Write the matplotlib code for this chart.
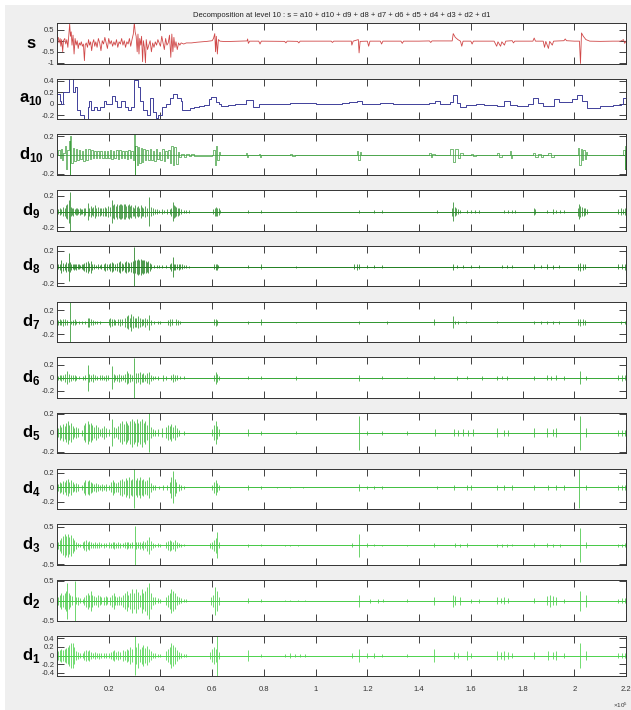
import numpy as np
import matplotlib
matplotlib.use("Agg")
import matplotlib.pyplot as plt
from matplotlib.patches import Rectangle

plt.rcParams['font.family'] = ['Liberation Sans Narrow', 'Liberation Sans', 'DejaVu Sans']
plt.rcParams['axes.unicode_minus'] = False
plt.rcParams['mathtext.fontset'] = 'custom'
plt.rcParams['mathtext.rm'] = 'Liberation Sans'
plt.rcParams['mathtext.bf'] = 'Liberation Sans:bold'

title = "Decomposition at level 10 : s = a10 + d10 + d9 + d8 + d7 + d6 + d5 + d4 + d3 + d2 + d1"
xtick_vals = [0.2, 0.4, 0.6, 0.8, 1.0, 1.2, 1.4, 1.6, 1.8, 2.0, 2.2]

# signal s (x in 1e5 samples)
s_x = [0.0, 0.005, 0.008, 0.012, 0.015, 0.018, 0.022, 0.025, 0.03, 0.034, 0.038, 0.042, 0.046, 0.049, 0.052,
       0.055, 0.058, 0.062, 0.066, 0.07, 0.074, 0.078, 0.082, 0.086, 0.09, 0.094, 0.098, 0.102, 0.106, 0.109,
       0.113, 0.118, 0.122, 0.126, 0.13, 0.134, 0.138, 0.142, 0.146, 0.15, 0.155, 0.16, 0.165, 0.17, 0.175,
       0.18, 0.185, 0.19, 0.195, 0.2, 0.205, 0.21, 0.215, 0.22, 0.225, 0.23, 0.235, 0.24, 0.245, 0.25, 0.255,
       0.26, 0.265, 0.27, 0.275, 0.28, 0.285, 0.29, 0.295, 0.299, 0.302, 0.306, 0.31, 0.313, 0.317, 0.32,
       0.324, 0.327, 0.331, 0.334, 0.338, 0.342, 0.345, 0.35, 0.355, 0.36, 0.365, 0.37, 0.375, 0.38, 0.385,
       0.39, 0.395, 0.4, 0.405, 0.41, 0.415, 0.42, 0.425, 0.43, 0.435, 0.44, 0.444, 0.448, 0.452, 0.456, 0.46,
       0.465, 0.47, 0.475, 0.48, 0.49, 0.5, 0.52, 0.54, 0.56, 0.58, 0.6, 0.605, 0.61, 0.613, 0.616, 0.62, 0.624,
       0.63, 0.65, 0.7, 0.735, 0.737, 0.74, 0.745, 0.78, 0.785, 0.79, 0.88, 0.885, 0.89, 0.93, 0.935, 0.94,
       1.0, 1.06, 1.065, 1.07, 1.138, 1.14, 1.145, 1.165, 1.168, 1.172, 1.2, 1.205, 1.21, 1.25, 1.255, 1.26,
       1.33, 1.335, 1.34, 1.4, 1.44, 1.445, 1.45, 1.528, 1.532, 1.54, 1.55, 1.56, 1.565, 1.57, 1.6, 1.605,
       1.61, 1.69, 1.7, 1.705, 1.715, 1.72, 1.73, 1.735, 1.76, 1.765, 1.77, 1.84, 1.845, 1.85, 1.88, 1.885,
       1.89, 1.9, 1.905, 1.915, 1.92, 1.96, 1.965, 1.97, 2.0, 2.02, 2.024, 2.028, 2.035, 2.045, 2.06, 2.1,
       2.15, 2.18, 2.19, 2.195, 2.2]
s_y = [0.05, 0.15, -0.1, 0.1, -0.25, 0.05, -0.5, 0.0, 0.1, -0.15, 0.05, -0.3, 0.3, 0.75, 0.2,
       0.4, -0.2, 0.25, -0.6, 0.1, -0.2, 0.0, -0.35, -0.1, -0.2, -0.05, -0.25, -0.15, -0.9, -0.2,
       -0.1, -0.3, 0.05, -0.2, -0.05, -0.45, -0.1, 0.05, -0.25, -0.05, -0.3, 0.1, -0.1, -0.45, 0.0,
       -0.15, 0.15, -0.1, -0.35, 0.1, -0.15, 0.0, -0.25, -0.05, -0.2, 0.05, -0.3, -0.05, -0.15, 0.1, -0.2,
       0.0, -0.3, -0.05, -0.15, 0.1, -0.25, 0.05, 0.3, 0.82, 0.4, 0.2, -0.5, 0.3, -0.6, 0.1,
       -0.2, 0.2, -0.95, 0.0, -0.3, -1.0, 0.05, -0.4, -0.2, 0.0, -0.5, -0.1, -0.3, -0.05, -0.2,
       0.05, -0.1, -0.25, 0.2, -0.1, -0.4, 0.1, -0.2, -0.1, 0.25, -0.75, 0.3, -0.5, 0.15, -0.3, -0.05,
       -0.4, -0.1, -0.2, -0.1, -0.15, -0.1, -0.1, -0.07, -0.05, -0.03, 0.0, 0.1, 0.32, -0.5, 0.2, -0.6, 0.05,
       -0.02, -0.04, -0.02, -0.01, 0.08, -0.12, -0.02, -0.02, -0.15, -0.02, -0.03, -0.1, -0.02, -0.03, -0.1, -0.02,
       -0.02, -0.02, -0.08, -0.02, -0.02, -0.2, -0.02, 0.05, -0.55, -0.03, -0.02, -0.25, -0.02, -0.02, -0.15, -0.02,
       -0.02, -0.12, -0.02, -0.02, -0.01, -0.08, -0.01, -0.01, 0.32, 0.15, 0.05, -0.02, -0.25, -0.02, -0.02, -0.15,
       -0.02, -0.02, -0.25, -0.05, -0.25, -0.05, -0.2, -0.02, 0.0, -0.1, -0.02, -0.02, 0.12, -0.02, -0.02, -0.3,
       -0.03, -0.35, -0.03, -0.2, -0.02, 0.0, 0.08, 0.0, -0.02, -0.02, -1.03, 0.35, 0.2, 0.05, -0.02, -0.03,
       -0.02, -0.02, 0.05, -0.12, -0.02]

# approximation a10 (step signal)
a10_x = [0.0, 0.01, 0.017, 0.024, 0.046, 0.063, 0.069, 0.078, 0.089, 0.104, 0.118, 0.122, 0.132, 0.144,
         0.154, 0.168, 0.183, 0.19, 0.212, 0.226, 0.233, 0.247, 0.262, 0.276, 0.288, 0.298, 0.312, 0.322,
         0.331, 0.348, 0.36, 0.37, 0.384, 0.391, 0.406, 0.42, 0.435, 0.449, 0.463, 0.478, 0.485, 0.514,
         0.53, 0.55, 0.57, 0.586, 0.596, 0.614, 0.625, 0.636, 0.66, 0.69, 0.722, 0.73, 0.758, 0.78, 0.8,
         0.9, 1.0, 1.1, 1.13, 1.16, 1.18, 1.25, 1.3, 1.36, 1.44, 1.46, 1.48, 1.52, 1.53, 1.545, 1.56, 1.58,
         1.62, 1.65, 1.7, 1.73, 1.75, 1.78, 1.82, 1.84, 1.86, 1.88, 1.92, 1.94, 1.99, 2.01, 2.03, 2.05,
         2.1, 2.15, 2.18, 2.19, 2.2]
a10_y = [0.17, 0.05, 0.0, 0.2, 0.5, 0.2, 0.3, -0.1, -0.2, -0.3, -0.05, 0.05, -0.1, -0.05,
         -0.1, -0.05, 0.05, 0.0, 0.13, 0.05, -0.05, 0.05, -0.05, -0.1, -0.05, 0.42, 0.3, 0.05,
         -0.1, -0.2, 0.1, -0.15, -0.25, -0.2, -0.05, 0.0, 0.1, 0.17, 0.1, 0.05, -0.1, -0.08,
         -0.06, -0.04, -0.02, 0.08, 0.12, 0.03, 0.0, -0.03, -0.02, -0.01, 0.0, 0.07, -0.05, 0.0, 0.0,
         0.01, 0.0, 0.01, 0.03, 0.05, -0.01, 0.01, -0.01, 0.0, 0.02, 0.05, 0.0, 0.03, 0.15, 0.02, -0.05, -0.02,
         0.0, -0.02, -0.03, 0.05, -0.02, -0.04, -0.01, 0.1, 0.02, -0.03, 0.08, 0.03, 0.08, 0.15, 0.05, -0.07,
         -0.04, -0.02, 0.0, 0.1, 0.05]

# detail d10 (blocky)
d10_x = [0.0, 0.005, 0.01, 0.015, 0.02, 0.025, 0.03, 0.035, 0.04, 0.045, 0.049, 0.051, 0.054, 0.06, 0.066,
         0.072, 0.078, 0.084, 0.09, 0.096, 0.102, 0.108, 0.114, 0.12, 0.126, 0.132, 0.138, 0.144, 0.15, 0.156,
         0.162, 0.168, 0.174, 0.18, 0.186, 0.192, 0.198, 0.204, 0.21, 0.216, 0.222, 0.228, 0.234, 0.24, 0.246,
         0.252, 0.258, 0.264, 0.27, 0.276, 0.282, 0.288, 0.294, 0.298, 0.3, 0.303, 0.308, 0.313, 0.318, 0.323,
         0.328, 0.334, 0.34, 0.346, 0.352, 0.358, 0.364, 0.37, 0.376, 0.382, 0.388, 0.394, 0.4, 0.406, 0.412,
         0.418, 0.424, 0.43, 0.436, 0.442, 0.448, 0.454, 0.46, 0.466, 0.472, 0.478, 0.49, 0.5, 0.51, 0.52,
         0.53, 0.6, 0.605, 0.61, 0.615, 0.62, 0.625, 0.63, 0.73, 0.735, 0.74, 0.78, 0.785, 0.79, 0.9, 0.91,
         0.92, 1.16, 1.165, 1.17, 1.175, 1.44, 1.445, 1.45, 1.46, 1.52, 1.53, 1.54, 1.55, 1.56, 1.57, 1.6,
         1.61, 1.62, 1.7, 1.71, 1.72, 1.75, 1.755, 1.76, 1.84, 1.85, 1.86, 1.87, 1.88, 1.9, 1.91, 1.92,
         2.015, 2.02, 2.025, 2.03, 2.035, 2.04, 2.045, 2.05, 2.19, 2.195, 2.198, 2.2]
d10_y = [0.0, 0.05, -0.03, 0.07, -0.05, 0.02, 0.1, -0.15, 0.05, 0.15, -0.2, 0.2, -0.08, 0.08, -0.06,
         0.07, -0.05, 0.05, -0.04, 0.04, -0.06, 0.07, -0.05, 0.06, -0.04, 0.05, -0.03, 0.04, -0.03, 0.04,
         -0.03, 0.04, -0.03, 0.04, -0.03, 0.04, -0.03, 0.05, -0.04, 0.04, -0.03, 0.05, -0.04, 0.05, -0.03,
         0.04, -0.03, 0.04, -0.04, 0.05, -0.03, 0.04, -0.05, 0.22, -0.21, 0.1, -0.1, 0.09, -0.08, 0.08,
         -0.07, 0.06, -0.05, 0.05, -0.05, 0.06, -0.05, 0.04, -0.06, 0.07, -0.04, 0.03, -0.05, 0.06, -0.06,
         0.04, -0.03, 0.05, -0.08, 0.1, -0.1, 0.09, -0.09, 0.03, -0.02, 0.015, -0.015, 0.01, -0.01, 0.01,
         -0.005, 0.0, 0.05, -0.1, 0.1, -0.05, 0.03, 0.0, 0.02, -0.02, 0.0, 0.015, -0.015, 0.0, 0.01, -0.01,
         0.0, 0.04, -0.05, 0.03, 0.0, 0.02, -0.02, 0.01, 0.0, 0.06, -0.07, 0.06, -0.03, 0.02, 0.0, 0.015,
         -0.01, 0.0, 0.02, -0.02, 0.0, 0.04, -0.03, 0.0, 0.02, -0.02, 0.015, -0.015, 0.0, 0.02, -0.02, 0.0,
         0.08, -0.1, 0.06, -0.05, 0.05, -0.04, 0.03, 0.0, 0.05, -0.15, 0.1, 0.0]

# details d9..d1 as (position, half amplitude) of the bursts
d9_spikes = [(0.003, 0.03), (0.01, 0.04), (0.017, 0.03), (0.024, 0.06), (0.03, 0.05), (0.036, 0.08), (0.04, 0.1),
             (0.046, 0.14), (0.049, 0.25), (0.053, 0.06), (0.058, 0.04), (0.063, 0.05), (0.068, 0.03), (0.073, 0.04),
             (0.078, 0.04), (0.083, 0.03), (0.088, 0.04), (0.093, 0.03), (0.098, 0.03), (0.104, 0.05), (0.11, 0.04),
             (0.118, 0.11), (0.125, 0.05), (0.13, 0.07), (0.135, 0.04), (0.14, 0.06), (0.147, 0.08), (0.152, 0.05),
             (0.158, 0.06), (0.165, 0.05), (0.172, 0.04), (0.178, 0.05), (0.185, 0.06), (0.19, 0.05), (0.197, 0.07),
             (0.204, 0.06), (0.212, 0.15), (0.217, 0.08), (0.222, 0.09), (0.228, 0.07), (0.233, 0.1), (0.238, 0.08),
             (0.243, 0.09), (0.248, 0.1), (0.253, 0.08), (0.258, 0.1), (0.263, 0.09), (0.268, 0.07), (0.273, 0.08),
             (0.278, 0.1), (0.283, 0.07), (0.288, 0.08), (0.293, 0.06), (0.298, 0.05), (0.303, 0.08), (0.308, 0.06),
             (0.313, 0.07), (0.318, 0.05), (0.323, 0.08), (0.328, 0.06), (0.334, 0.05), (0.34, 0.07), (0.347, 0.05),
             (0.355, 0.18), (0.362, 0.06), (0.37, 0.04), (0.378, 0.03), (0.386, 0.03), (0.395, 0.02), (0.405, 0.03),
             (0.415, 0.02), (0.425, 0.03), (0.435, 0.03), (0.44, 0.05), (0.447, 0.12), (0.452, 0.08), (0.457, 0.07),
             (0.462, 0.06), (0.467, 0.05), (0.472, 0.04), (0.48, 0.03), (0.49, 0.02), (0.5, 0.02), (0.51, 0.015),
             (0.605, 0.03), (0.61, 0.05), (0.615, 0.06), (0.62, 0.05), (0.625, 0.04), (0.63, 0.02), (0.737, 0.02),
             (0.787, 0.02), (0.924, 0.01), (1.168, 0.02), (1.226, 0.02), (1.255, 0.02), (1.47, 0.015), (1.528, 0.05),
             (1.532, 0.12), (1.537, 0.06), (1.542, 0.04), (1.55, 0.03), (1.56, 0.02), (1.586, 0.02), (1.6, 0.015),
             (1.615, 0.02), (1.63, 0.015), (1.729, 0.02), (1.745, 0.015), (1.758, 0.02), (1.77, 0.015), (1.845, 0.04),
             (1.85, 0.03), (1.895, 0.02), (1.917, 0.03), (1.931, 0.02), (1.945, 0.015), (1.96, 0.02), (2.015, 0.05),
             (2.02, 0.1), (2.024, 0.07), (2.03, 0.06), (2.036, 0.05), (2.042, 0.04), (2.05, 0.03), (2.17, 0.03),
             (2.18, 0.04), (2.19, 0.03), (2.197, 0.04)]
d8_spikes = [(0.003, 0.03), (0.01, 0.04), (0.017, 0.08), (0.024, 0.05), (0.03, 0.04), (0.036, 0.06), (0.042, 0.05),
             (0.045, 0.17), (0.05, 0.06), (0.055, 0.04), (0.06, 0.03), (0.065, 0.04), (0.07, 0.03), (0.075, 0.04),
             (0.08, 0.03), (0.085, 0.03), (0.09, 0.02), (0.095, 0.03), (0.1, 0.04), (0.106, 0.05), (0.112, 0.06),
             (0.118, 0.07), (0.124, 0.05), (0.13, 0.07), (0.135, 0.04), (0.142, 0.03), (0.15, 0.02), (0.158, 0.03),
             (0.165, 0.02), (0.172, 0.03), (0.18, 0.04), (0.186, 0.05), (0.192, 0.04), (0.2, 0.03), (0.206, 0.05),
             (0.212, 0.06), (0.218, 0.05), (0.225, 0.04), (0.232, 0.05), (0.238, 0.06), (0.244, 0.07), (0.25, 0.05),
             (0.256, 0.04), (0.262, 0.06), (0.268, 0.07), (0.274, 0.06), (0.28, 0.05), (0.286, 0.06), (0.292, 0.07),
             (0.298, 0.25), (0.303, 0.08), (0.308, 0.09), (0.313, 0.1), (0.318, 0.09), (0.323, 0.1), (0.328, 0.08),
             (0.333, 0.09), (0.338, 0.08), (0.343, 0.07), (0.348, 0.06), (0.353, 0.07), (0.358, 0.05), (0.365, 0.03),
             (0.375, 0.02), (0.385, 0.02), (0.395, 0.02), (0.405, 0.02), (0.42, 0.02), (0.435, 0.03), (0.442, 0.05),
             (0.447, 0.12), (0.452, 0.04), (0.458, 0.04), (0.464, 0.03), (0.47, 0.04), (0.476, 0.03), (0.482, 0.03),
             (0.49, 0.02), (0.5, 0.02), (0.51, 0.015), (0.608, 0.03), (0.613, 0.04), (0.618, 0.035), (0.624, 0.02),
             (0.737, 0.02), (0.787, 0.03), (0.924, 0.01), (1.148, 0.03), (1.16, 0.04), (1.168, 0.03), (1.197, 0.02),
             (1.226, 0.02), (1.255, 0.02), (1.532, 0.04), (1.545, 0.02), (1.57, 0.02), (1.6, 0.02), (1.63, 0.02),
             (1.72, 0.02), (1.74, 0.02), (1.758, 0.02), (1.845, 0.03), (1.87, 0.02), (1.895, 0.03), (1.917, 0.025),
             (1.94, 0.02), (2.015, 0.04), (2.024, 0.05), (2.032, 0.04), (2.04, 0.03), (2.17, 0.03), (2.185, 0.03),
             (2.197, 0.04)]
d7_spikes = [(0.003, 0.04), (0.01, 0.05), (0.017, 0.04), (0.024, 0.06), (0.032, 0.05), (0.039, 0.04), (0.049, 0.35),
             (0.055, 0.03), (0.062, 0.04), (0.068, 0.05), (0.075, 0.03), (0.085, 0.02), (0.095, 0.02), (0.11, 0.03),
             (0.118, 0.08), (0.124, 0.07), (0.13, 0.05), (0.138, 0.04), (0.145, 0.03), (0.155, 0.02), (0.165, 0.03),
             (0.2, 0.05), (0.206, 0.07), (0.212, 0.06), (0.22, 0.05), (0.226, 0.04), (0.235, 0.05), (0.242, 0.06),
             (0.25, 0.05), (0.262, 0.08), (0.27, 0.1), (0.276, 0.12), (0.282, 0.08), (0.288, 0.14), (0.294, 0.1),
             (0.3, 0.08), (0.306, 0.07), (0.312, 0.1), (0.32, 0.08), (0.327, 0.06), (0.334, 0.05), (0.34, 0.07),
             (0.347, 0.05), (0.355, 0.13), (0.362, 0.04), (0.375, 0.02), (0.39, 0.03), (0.4, 0.02), (0.43, 0.04),
             (0.437, 0.06), (0.443, 0.05), (0.46, 0.05), (0.466, 0.04), (0.475, 0.02), (0.608, 0.05), (0.614, 0.06),
             (0.62, 0.04), (0.737, 0.02), (0.787, 0.05), (0.924, 0.01), (1.168, 0.02), (1.276, 0.02), (1.456, 0.05),
             (1.532, 0.1), (1.54, 0.03), (1.55, 0.02), (1.58, 0.015), (1.7, 0.015), (1.845, 0.03), (1.87, 0.02),
             (1.895, 0.03), (1.917, 0.02), (1.94, 0.03), (2.015, 0.05), (2.024, 0.06), (2.032, 0.05), (2.04, 0.04),
             (2.18, 0.03), (2.195, 0.03)]
d6_spikes = [(0.003, 0.03), (0.01, 0.04), (0.017, 0.05), (0.024, 0.04), (0.032, 0.06), (0.039, 0.1), (0.046, 0.06),
             (0.053, 0.05), (0.06, 0.04), (0.068, 0.05), (0.075, 0.03), (0.085, 0.02), (0.1, 0.03), (0.108, 0.04),
             (0.118, 0.2), (0.125, 0.06), (0.132, 0.05), (0.14, 0.06), (0.147, 0.04), (0.155, 0.03), (0.165, 0.04),
             (0.175, 0.04), (0.183, 0.03), (0.19, 0.05), (0.197, 0.04), (0.212, 0.18), (0.219, 0.06), (0.226, 0.04),
             (0.233, 0.05), (0.24, 0.06), (0.247, 0.05), (0.255, 0.04), (0.262, 0.06), (0.27, 0.1), (0.276, 0.08),
             (0.282, 0.06), (0.291, 0.05), (0.298, 0.31), (0.305, 0.08), (0.312, 0.07), (0.319, 0.09), (0.327, 0.06),
             (0.334, 0.07), (0.341, 0.05), (0.348, 0.08), (0.355, 0.09), (0.363, 0.05), (0.37, 0.03), (0.38, 0.02),
             (0.39, 0.03), (0.41, 0.05), (0.42, 0.03), (0.44, 0.04), (0.449, 0.06), (0.456, 0.05), (0.463, 0.04),
             (0.475, 0.02), (0.49, 0.02), (0.607, 0.05), (0.614, 0.09), (0.62, 0.06), (0.628, 0.03), (0.737, 0.02),
             (0.787, 0.02), (0.924, 0.03), (1.168, 0.05), (1.255, 0.02), (1.355, 0.01), (1.456, 0.02), (1.545, 0.03),
             (1.586, 0.02), (1.643, 0.03), (1.701, 0.03), (1.72, 0.025), (1.74, 0.03), (1.845, 0.03), (1.895, 0.04),
             (1.91, 0.03), (1.931, 0.04), (1.96, 0.03), (2.024, 0.1), (2.046, 0.03), (2.17, 0.04), (2.185, 0.05),
             (2.197, 0.04)]
d5_spikes = [(0.003, 0.05), (0.01, 0.08), (0.017, 0.06), (0.024, 0.09), (0.03, 0.07), (0.036, 0.1), (0.042, 0.12),
             (0.048, 0.08), (0.054, 0.1), (0.06, 0.07), (0.066, 0.05), (0.075, 0.06), (0.082, 0.05), (0.095, 0.03),
             (0.104, 0.08), (0.11, 0.1), (0.118, 0.12), (0.124, 0.09), (0.13, 0.1), (0.136, 0.08), (0.142, 0.06),
             (0.15, 0.08), (0.157, 0.06), (0.165, 0.04), (0.175, 0.05), (0.183, 0.07), (0.19, 0.05), (0.2, 0.04),
             (0.212, 0.14), (0.22, 0.06), (0.228, 0.05), (0.236, 0.07), (0.244, 0.1), (0.25, 0.12), (0.258, 0.09),
             (0.265, 0.12), (0.27, 0.1), (0.276, 0.08), (0.282, 0.12), (0.29, 0.15), (0.296, 0.12), (0.302, 0.1),
             (0.308, 0.14), (0.315, 0.1), (0.322, 0.12), (0.328, 0.15), (0.335, 0.1), (0.342, 0.12), (0.348, 0.08),
             (0.355, 0.21), (0.362, 0.06), (0.37, 0.04), (0.38, 0.03), (0.39, 0.04), (0.405, 0.05), (0.42, 0.06),
             (0.428, 0.08), (0.435, 0.07), (0.442, 0.09), (0.449, 0.06), (0.456, 0.08), (0.463, 0.05), (0.472, 0.03),
             (0.49, 0.02), (0.6, 0.04), (0.607, 0.08), (0.614, 0.12), (0.62, 0.07), (0.628, 0.04), (0.737, 0.04),
             (0.787, 0.02), (0.924, 0.015), (1.168, 0.18), (1.197, 0.02), (1.255, 0.02), (1.355, 0.02), (1.463, 0.04),
             (1.535, 0.04), (1.55, 0.03), (1.57, 0.04), (1.59, 0.03), (1.61, 0.04), (1.701, 0.05), (1.729, 0.03),
             (1.745, 0.03), (1.845, 0.05), (1.895, 0.05), (1.917, 0.04), (1.931, 0.05), (2.024, 0.18), (2.046, 0.05),
             (2.17, 0.03), (2.185, 0.03), (2.197, 0.03)]
d4_spikes = [(0.003, 0.05), (0.01, 0.08), (0.017, 0.06), (0.024, 0.09), (0.03, 0.07), (0.036, 0.1), (0.042, 0.12),
             (0.048, 0.08), (0.054, 0.1), (0.06, 0.07), (0.066, 0.05), (0.075, 0.06), (0.082, 0.05), (0.095, 0.03),
             (0.104, 0.08), (0.11, 0.1), (0.118, 0.09), (0.124, 0.1), (0.13, 0.08), (0.136, 0.06), (0.142, 0.05),
             (0.15, 0.06), (0.157, 0.05), (0.165, 0.04), (0.175, 0.05), (0.183, 0.04), (0.19, 0.05), (0.2, 0.04),
             (0.208, 0.07), (0.215, 0.1), (0.222, 0.08), (0.23, 0.06), (0.236, 0.07), (0.244, 0.1), (0.25, 0.12),
             (0.258, 0.09), (0.265, 0.13), (0.272, 0.1), (0.279, 0.14), (0.285, 0.1), (0.291, 0.12), (0.298, 0.28),
             (0.304, 0.1), (0.31, 0.13), (0.316, 0.1), (0.322, 0.15), (0.328, 0.1), (0.334, 0.12), (0.34, 0.09),
             (0.348, 0.1), (0.355, 0.15), (0.362, 0.06), (0.37, 0.03), (0.38, 0.03), (0.395, 0.02), (0.41, 0.04),
             (0.425, 0.03), (0.435, 0.08), (0.442, 0.14), (0.449, 0.22), (0.455, 0.12), (0.462, 0.08), (0.47, 0.05),
             (0.478, 0.03), (0.49, 0.02), (0.6, 0.04), (0.607, 0.08), (0.614, 0.1), (0.62, 0.06), (0.628, 0.03),
             (0.737, 0.03), (0.787, 0.02), (0.85, 0.01), (0.9, 0.01), (0.95, 0.01), (1.168, 0.05), (1.197, 0.02),
             (1.226, 0.02), (1.255, 0.02), (1.47, 0.02), (1.535, 0.04), (1.586, 0.03), (1.6, 0.03), (1.701, 0.03),
             (1.729, 0.03), (1.758, 0.03), (1.845, 0.04), (1.9, 0.04), (1.93, 0.04), (1.96, 0.03), (2.02, 0.28),
             (2.046, 0.03), (2.17, 0.03), (2.185, 0.03), (2.197, 0.03)]
d3_spikes = [(0.003, 0.1), (0.01, 0.15), (0.017, 0.2), (0.024, 0.25), (0.03, 0.3), (0.036, 0.25), (0.042, 0.3),
             (0.048, 0.22), (0.054, 0.28), (0.06, 0.2), (0.066, 0.15), (0.072, 0.1), (0.08, 0.05), (0.09, 0.04),
             (0.1, 0.08), (0.106, 0.12), (0.112, 0.15), (0.118, 0.1), (0.124, 0.12), (0.13, 0.08), (0.138, 0.06),
             (0.146, 0.08), (0.155, 0.06), (0.163, 0.08), (0.172, 0.05), (0.18, 0.07), (0.19, 0.05), (0.2, 0.08),
             (0.208, 0.06), (0.215, 0.08), (0.222, 0.1), (0.23, 0.06), (0.237, 0.08), (0.245, 0.06), (0.255, 0.05),
             (0.262, 0.08), (0.27, 0.1), (0.276, 0.08), (0.283, 0.06), (0.291, 0.08), (0.3, 0.52), (0.306, 0.1),
             (0.313, 0.08), (0.32, 0.1), (0.327, 0.07), (0.334, 0.12), (0.341, 0.08), (0.348, 0.15), (0.355, 0.22),
             (0.362, 0.12), (0.37, 0.06), (0.38, 0.04), (0.39, 0.05), (0.4, 0.04), (0.42, 0.08), (0.428, 0.12),
             (0.435, 0.15), (0.442, 0.12), (0.449, 0.1), (0.456, 0.14), (0.463, 0.08), (0.47, 0.05), (0.48, 0.04),
             (0.49, 0.03), (0.59, 0.06), (0.6, 0.1), (0.607, 0.15), (0.614, 0.2), (0.62, 0.35), (0.626, 0.08),
             (0.737, 0.04), (0.787, 0.03), (0.88, 0.02), (0.9, 0.02), (0.93, 0.02), (1.14, 0.05), (1.168, 0.3),
             (1.197, 0.05), (1.226, 0.03), (1.255, 0.02), (1.355, 0.02), (1.456, 0.05), (1.54, 0.05), (1.56, 0.04),
             (1.586, 0.05), (1.701, 0.04), (1.72, 0.04), (1.74, 0.04), (1.758, 0.03), (1.845, 0.05), (1.895, 0.05),
             (1.917, 0.04), (1.945, 0.04), (2.024, 0.45), (2.046, 0.08), (2.17, 0.04), (2.185, 0.04), (2.197, 0.05)]
d2_spikes = [(0.003, 0.1), (0.01, 0.15), (0.017, 0.2), (0.024, 0.15), (0.03, 0.2), (0.036, 0.25), (0.04, 0.45),
             (0.046, 0.2), (0.052, 0.15), (0.058, 0.12), (0.068, 0.5), (0.075, 0.08), (0.082, 0.1), (0.09, 0.06),
             (0.1, 0.05), (0.106, 0.1), (0.112, 0.15), (0.118, 0.2), (0.124, 0.15), (0.13, 0.25), (0.136, 0.15),
             (0.142, 0.12), (0.15, 0.1), (0.158, 0.15), (0.165, 0.12), (0.172, 0.08), (0.18, 0.1), (0.188, 0.12),
             (0.195, 0.08), (0.205, 0.1), (0.212, 0.15), (0.219, 0.2), (0.226, 0.12), (0.233, 0.1), (0.24, 0.12),
             (0.247, 0.1), (0.255, 0.15), (0.262, 0.2), (0.27, 0.25), (0.276, 0.15), (0.283, 0.2), (0.291, 0.3),
             (0.298, 0.2), (0.305, 0.3), (0.312, 0.22), (0.319, 0.15), (0.327, 0.3), (0.334, 0.2), (0.341, 0.25),
             (0.348, 0.35), (0.355, 0.45), (0.362, 0.2), (0.37, 0.1), (0.38, 0.08), (0.39, 0.06), (0.4, 0.05),
             (0.42, 0.1), (0.428, 0.15), (0.435, 0.2), (0.442, 0.3), (0.449, 0.25), (0.456, 0.2), (0.463, 0.12),
             (0.47, 0.08), (0.48, 0.06), (0.49, 0.04), (0.5, 0.03), (0.595, 0.1), (0.605, 0.15), (0.612, 0.35),
             (0.618, 0.25), (0.625, 0.1), (0.737, 0.06), (0.787, 0.04), (0.88, 0.02), (0.9, 0.02), (0.93, 0.02),
             (0.96, 0.02), (1.168, 0.15), (1.21, 0.05), (1.24, 0.05), (1.26, 0.04), (1.355, 0.04), (1.456, 0.1),
             (1.53, 0.15), (1.54, 0.12), (1.557, 0.1), (1.6, 0.05), (1.63, 0.05), (1.701, 0.08), (1.715, 0.07),
             (1.729, 0.08), (1.745, 0.06), (1.845, 0.06), (1.895, 0.12), (1.905, 0.15), (1.917, 0.12), (1.931, 0.1),
             (1.96, 0.05), (2.024, 0.25), (2.046, 0.15), (2.17, 0.05), (2.185, 0.06), (2.197, 0.06)]
d1_spikes = [(0.003, 0.1), (0.01, 0.12), (0.017, 0.15), (0.024, 0.12), (0.03, 0.15), (0.036, 0.18), (0.042, 0.2),
             (0.048, 0.25), (0.054, 0.3), (0.06, 0.28), (0.066, 0.2), (0.072, 0.1), (0.08, 0.08), (0.09, 0.06),
             (0.1, 0.05), (0.106, 0.1), (0.112, 0.12), (0.118, 0.1), (0.124, 0.12), (0.13, 0.08), (0.138, 0.06),
             (0.146, 0.08), (0.155, 0.06), (0.163, 0.07), (0.172, 0.05), (0.18, 0.06), (0.19, 0.05), (0.2, 0.06),
             (0.208, 0.08), (0.215, 0.1), (0.222, 0.12), (0.23, 0.08), (0.237, 0.1), (0.245, 0.08), (0.255, 0.12),
             (0.262, 0.1), (0.27, 0.15), (0.276, 0.12), (0.283, 0.2), (0.291, 0.15), (0.3, 0.46), (0.306, 0.2),
             (0.313, 0.3), (0.32, 0.15), (0.327, 0.2), (0.334, 0.25), (0.341, 0.18), (0.348, 0.22), (0.355, 0.15),
             (0.362, 0.1), (0.37, 0.06), (0.38, 0.05), (0.39, 0.04), (0.4, 0.03), (0.42, 0.1), (0.428, 0.15),
             (0.435, 0.2), (0.442, 0.3), (0.449, 0.25), (0.456, 0.2), (0.463, 0.12), (0.47, 0.08), (0.48, 0.06),
             (0.49, 0.04), (0.5, 0.03), (0.59, 0.08), (0.6, 0.15), (0.607, 0.2), (0.614, 0.15), (0.62, 0.47),
             (0.626, 0.08), (0.737, 0.12), (0.787, 0.03), (0.88, 0.04), (0.9, 0.05), (0.92, 0.04), (0.94, 0.04),
             (0.96, 0.03), (1.14, 0.05), (1.168, 0.15), (1.197, 0.06), (1.226, 0.05), (1.255, 0.04), (1.355, 0.03),
             (1.456, 0.15), (1.535, 0.08), (1.55, 0.06), (1.586, 0.1), (1.6, 0.06), (1.701, 0.1), (1.715, 0.08),
             (1.729, 0.1), (1.745, 0.08), (1.758, 0.06), (1.845, 0.08), (1.9, 0.1), (1.917, 0.08), (1.931, 0.1),
             (1.96, 0.05), (2.024, 0.3), (2.046, 0.1), (2.17, 0.05), (2.185, 0.06), (2.197, 0.05)]

panel_names = ['s', 'a10', 'd10', 'd9', 'd8', 'd7', 'd6', 'd5', 'd4', 'd3', 'd2', 'd1']
labels = [r'$\mathbf{s}$', r'$\mathbf{a}_{\mathbf{10}}$', r'$\mathbf{d}_{\mathbf{10}}$'] + \
         [r'$\mathbf{d}_{\mathbf{%d}}$' % k for k in range(9, 0, -1)]
ylims = [(-1.03, 0.8), (-0.27, 0.44), (-0.21, 0.22), (-0.24, 0.27), (-0.24, 0.26), (-0.33, 0.35),
         (-0.31, 0.32), (-0.22, 0.21), (-0.3, 0.26), (-0.52, 0.56), (-0.5, 0.52), (-0.48, 0.46)]
yticks = [[-1, -0.5, 0, 0.5], [-0.2, 0, 0.2, 0.4]] + [[-0.2, 0, 0.2]] * 7 + \
         [[-0.5, 0, 0.5], [-0.5, 0, 0.5], [-0.4, -0.2, 0, 0.2, 0.4]]
colors = ['#d04848', '#40409a', '#3f9f3f', '#2a8a2a', '#1f7f1f', '#2e942e', '#35a835',
          '#3cb83c', '#3fbe3f', '#45c845', '#48cc48', '#4cd24c']
spikes = {'d9': d9_spikes, 'd8': d8_spikes, 'd7': d7_spikes, 'd6': d6_spikes, 'd5': d5_spikes,
          'd4': d4_spikes, 'd3': d3_spikes, 'd2': d2_spikes, 'd1': d1_spikes}

W, H = 631, 710
fig = plt.figure(figsize=(W / 100, H / 100), dpi=100, facecolor='white')
fig.patches.append(Rectangle((5 / W, 0), 1, 1 - 5 / H, transform=fig.transFigure,
                             facecolor='#efefef', edgecolor='none', zorder=-10))

left, right = 57, 626
for i, name in enumerate(panel_names):
    top = 23 + 55.7 * i
    ax = fig.add_axes([left / W, 1 - (top + 40.5) / H, (right - left) / W, 40.5 / H])
    c = colors[i]
    if name == 's':
        ax.plot(s_x, s_y, color=c, lw=0.6)
        ax.set_title(title, fontsize=5.5, pad=4, color='#222222')
    elif name == 'a10':
        ax.plot(a10_x, a10_y, color=c, lw=0.7, drawstyle='steps-post')
    elif name == 'd10':
        ax.axhline(0, color=c, lw=0.5)
        ax.plot(d10_x, d10_y, color=c, lw=0.5, drawstyle='steps-post')
    else:
        pts = np.array(spikes[name])
        ax.axhline(0, color=c, lw=0.7)
        ax.vlines(pts[:, 0], -pts[:, 1], pts[:, 1], color=c, lw=0.7, alpha=0.8)
    ax.set_xlim(0, 2.2)
    ax.set_ylim(*ylims[i])
    ax.set_yticks(yticks[i])
    ax.set_yticklabels(['%g' % v for v in yticks[i]])
    ax.set_xticks(xtick_vals)
    if i == len(panel_names) - 1:
        ax.set_xticklabels(['%g' % v for v in xtick_vals])
    else:
        ax.set_xticklabels([])
    ax.tick_params(direction='in', top=True, right=True, length=5, width=0.6,
                   labelsize=5.5, labelcolor='#333333', pad=2, color='#222222')
    ax.tick_params(axis='x', pad=7)
    for sp in ax.spines.values():
        sp.set_linewidth(0.7)
        sp.set_color('#333333')
    fig.text(31 / W, 1 - (top + 20) / H, labels[i], fontsize=12, ha='center', va='center')

fig.text(620 / W, 1 - 705 / H, r'$\times10^5$', fontsize=4.5, ha='center', va='center', color='#333333')

fig.savefig('out.png', dpi=100, facecolor=fig.get_facecolor())
